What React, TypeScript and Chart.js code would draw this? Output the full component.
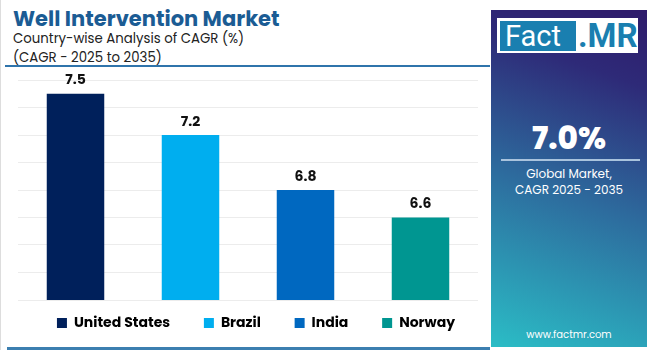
import React, { useEffect, useRef } from "react";
import { Chart, registerables } from "chart.js";

Chart.register(...registerables);

const categories = ["United States", "Brazil", "India", "Norway"];
const cagrValues = [7.5, 7.2, 6.8, 6.6];
const barColors = ["#00205b", "#00aeef", "#0068c0", "#009691"];
const yMin = 6.0;
const yMax = 7.6;
const yStep = 0.2;

const FONT = "Poppins, Inter, 'Noto Sans', sans-serif";
const LEGEND_GAP = "      ";

const valueLabelPlugin = {
  id: "valueLabels",
  afterDatasetsDraw(chart: any) {
    const ctx = chart.ctx;
    const meta = chart.getDatasetMeta(0);
    ctx.save();
    ctx.fillStyle = "#111";
    ctx.font = `bold 14px ${FONT}`;
    ctx.textAlign = "center";
    ctx.textBaseline = "bottom";
    meta.data.forEach((el: any, i: number) => {
      ctx.fillText(cagrValues[i].toFixed(1), el.x, el.y - 6);
    });
    ctx.restore();
  },
};

export default function App() {
  const ref = useRef<HTMLCanvasElement | null>(null);
  useEffect(() => {
    if (!ref.current) return;
    const chart = new Chart(ref.current, {
      type: "bar",
      data: {
        labels: categories,
        datasets: [
          {
            data: cagrValues,
            backgroundColor: barColors,
            barPercentage: 0.5,
            categoryPercentage: 1,
          },
        ],
      },
      options: {
        animation: false,
        responsive: false,
        maintainAspectRatio: false,
        layout: { padding: { left: 0, right: 0, top: 10, bottom: 0 } },
        scales: {
          x: {
            display: false,
          },
          y: {
            min: yMin,
            max: yMax,
            ticks: { display: false, stepSize: yStep },
            border: { display: false },
            grid: { color: "#ececec", drawTicks: false },
            afterFit: (s: any) => {
              s.width = 7;
            },
          },
          yRight: {
            position: "right",
            display: true,
            ticks: { display: false },
            border: { display: false },
            grid: { display: false, drawTicks: false },
            afterFit: (s: any) => {
              s.width = 23;
            },
          },
        },
        plugins: {
          tooltip: { enabled: false },
          legend: {
            position: "bottom",
            labels: {
              boxWidth: 10,
              boxHeight: 10,
              padding: 16,
              color: "#111",
              font: { family: FONT, size: 14, weight: "bold" },
              generateLabels: () =>
                categories.map((c, i) => ({
                  text: i < categories.length - 1 ? c + LEGEND_GAP : c,
                  fillStyle: barColors[i],
                  strokeStyle: barColors[i],
                  lineWidth: 0,
                  hidden: false,
                  index: i,
                  datasetIndex: 0,
                })),
            },
          },
        },
      },
      plugins: [valueLabelPlugin],
    });
    return () => chart.destroy();
  }, []);

  return (
    <div
      style={{
        position: "absolute",
        left: 0,
        top: 0,
        width: 650,
        height: 350,
        background: "#fff",
        overflow: "hidden",
        fontFamily: FONT,
      }}
    >
      <div style={{ position: "absolute", left: 0, top: 0, width: 1, height: 350, background: "#ddd" }} />
      <div
        style={{
          position: "absolute",
          left: 13,
          top: 3,
          fontSize: 21,
          fontWeight: 700,
          color: "#1b5c94",
          whiteSpace: "nowrap",
        }}
      >
        Well Intervention Market
      </div>
      <div style={{ position: "absolute", left: 13, top: 28.5, fontSize: 13.3, color: "#222", lineHeight: "19px", whiteSpace: "nowrap" }}>
        Country-wise Analysis of CAGR (%)
        <br />
        (CAGR - 2025 to 2035)
      </div>
      <div style={{ position: "absolute", left: 5, top: 65, width: 485, height: 2, background: "#2f74ab" }} />
      <div style={{ position: "absolute", left: 11, top: 70 }}>
        <canvas ref={ref} width={490} height={270} style={{ display: "block", width: 490, height: 270 }} />
      </div>
      <div style={{ position: "absolute", left: 7, top: 347, width: 483, height: 3, background: "#3c7fb0" }} />
      <div
        style={{
          position: "absolute",
          left: 491,
          top: 10,
          width: 156,
          height: 337,
          background: "linear-gradient(20deg, #2bbdc6 0%, #2d6c9e 45%, #2e2a78 80%, #2e1a6a 100%)",
        }}
      >
        <div style={{ position: "absolute", left: 6, top: 8, width: 141, height: 35, background: "#fff", display: "flex", alignItems: "center" }}>
          <div
            style={{
              marginLeft: 3,
              width: 76,
              height: 30,
              background: "#1a7fb0",
              color: "#fff",
              fontSize: 29,
              lineHeight: "30px",
              fontFamily: "Roboto, sans-serif",
              paddingLeft: 5,
              boxSizing: "border-box",
            }}
          >
            Fact
          </div>
          <div style={{ color: "#1a7fb0", fontSize: 33, fontWeight: 700, fontFamily: "Roboto, sans-serif", marginLeft: 2, lineHeight: "30px" }}>
            .MR
          </div>
        </div>
        <div style={{ position: "absolute", left: 0, width: 156, top: 105, textAlign: "center", color: "#fff", fontSize: 31, fontWeight: 800 }}>
          7.0%
        </div>
        <div style={{ position: "absolute", left: 10, width: 139, top: 149, height: 2, background: "#a9c3dd" }} />
        <div style={{ position: "absolute", left: 0, width: 156, top: 156, textAlign: "center", color: "#fff", fontSize: 12, lineHeight: "16px" }}>
          Global Market,
          <br />
          CAGR 2025 - 2035
        </div>
        <div style={{ position: "absolute", left: 0, width: 156, top: 317, textAlign: "center", color: "#fff", fontSize: 10 }}>
          www.factmr.com
        </div>
      </div>
    </div>
  );
}
